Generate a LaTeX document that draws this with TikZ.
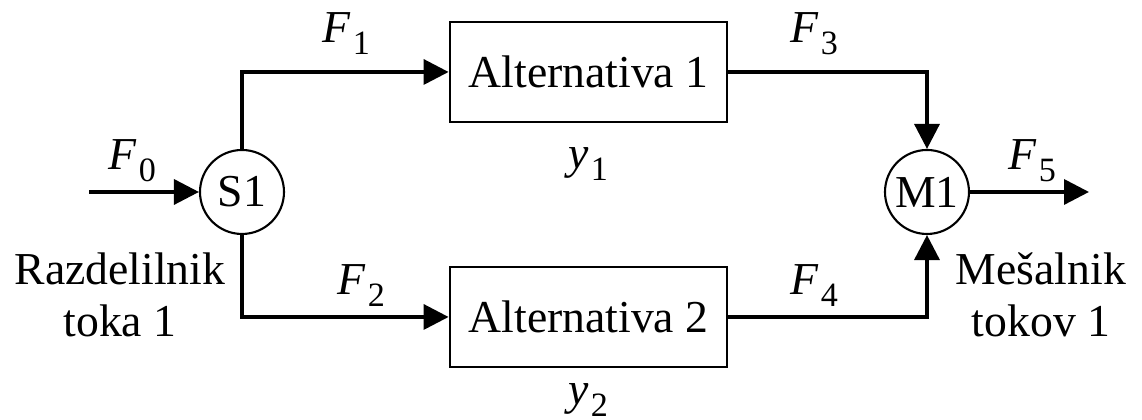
\documentclass[tikz,border=0pt]{standalone}
\usepackage{fontspec}
\setmainfont{Liberation Serif}
\usetikzlibrary{arrows.meta,positioning}

\newcommand{\flowvar}[2]{\textit{#1}\kern0.04em\raisebox{-0.26em}{\fontsize{9.7}{10}\selectfont #2}}

\begin{document}
\begin{tikzpicture}[
  every node/.style={font=\fontsize{13}{14.8}\selectfont},
  unit/.style={draw, line width=0.6pt, circle, minimum size=0.84cm, inner sep=0pt},
  alt/.style={draw, line width=0.8pt, minimum width=2.77cm, minimum height=1.0cm, inner sep=0pt},
  tok/.style={line width=1pt, -{Triangle[length=0.25cm,width=0.25cm]}},
  lbl/.style={anchor=base west, inner sep=0pt},
  note/.style={anchor=base, align=center, inner sep=0pt}
]
\useasboundingbox (0,0) rectangle (11.42,4.2);

\node[unit] (S1) at (2.42,2.28) {S1};
\node[unit] (M1) at (9.27,2.28) {M1};
\node[alt] (A1) at (5.885,3.48) {Alternativa 1};
\node[alt] (A2) at (5.885,1.03) {Alternativa 2};
\coordinate (in) at (0.89,2.28);
\coordinate (out) at (10.89,2.28);
%==========
\draw[tok] (in) -- (S1);
\draw[tok] (S1.north) |- (A1.west);
\draw[tok] (S1.south) |- (A2.west);
\draw[tok] (A1.east) -| (M1.north);
\draw[tok] (A2.east) -| (M1.south);
\draw[tok] (M1) -- (out);
%==========
\node[lbl] (F0) at (1.08,2.50) {\flowvar{F}{0}};
\node[lbl] (F1) at (3.22,3.77) {\flowvar{F}{1}};
\node[lbl] (F2) at (3.37,1.25) {\flowvar{F}{2}};
\node[lbl] (F3) at (7.90,3.77) {\flowvar{F}{3}};
\node[lbl] (F4) at (7.90,1.25) {\flowvar{F}{4}};
\node[lbl] (F5) at (10.08,2.50) {\flowvar{F}{5}};
\node[lbl] (y1) at (5.68,2.51) {\flowvar{y}{1}};
\node[lbl] (y2) at (5.68,0.15) {\flowvar{y}{2}};

% the base anchor sits on the last line
\node[note] (split) at (1.20,0.83) {Razdelilnik\\toka 1};
\node[note] (mix) at (10.41,0.83) {Mešalnik\\tokov 1};
\end{tikzpicture}
\end{document}
